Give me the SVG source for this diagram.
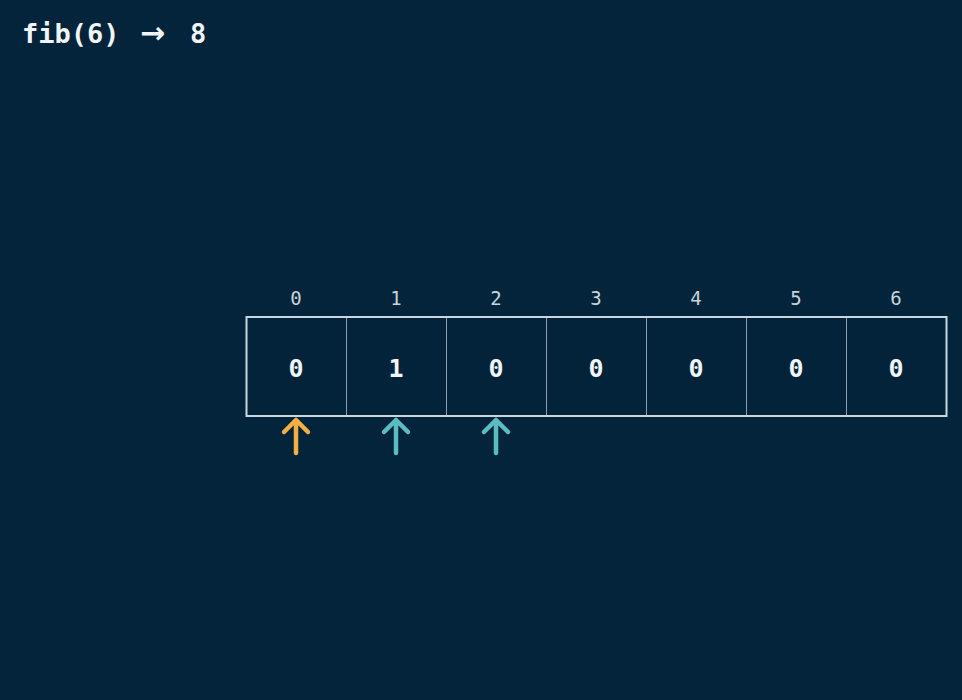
<svg xmlns="http://www.w3.org/2000/svg" width="962" height="700" viewBox="0 0 962 700">
<style>
.title{font-family:"DejaVu Sans Mono","Liberation Mono",monospace;font-weight:bold;font-size:27px;fill:#f2f5f7}
.arr{font-family:"DejaVu Sans","Liberation Sans",sans-serif;font-size:30px}
.idx{font-family:"DejaVu Sans Mono","Liberation Mono",monospace;font-size:19px;fill:#c9d4db;text-anchor:middle;dominant-baseline:central}
.val{font-family:"DejaVu Sans Mono","Liberation Mono",monospace;font-weight:bold;font-size:25px;fill:#f2f5f7;text-anchor:middle;dominant-baseline:central}
.cell{fill:#03233a;stroke:#8b9eab;stroke-width:1}
.ptr{fill:none;stroke-width:4.5;stroke-linecap:round;stroke-linejoin:round}
</style>
<rect width="962" height="700" fill="#03243a"/>
<text class="title" y="43"><tspan x="22">fib(6)</tspan><tspan class="arr" x="140">→</tspan><tspan x="190">8</tspan></text>
<g id="array">
<g id="cell0"><rect class="cell" x="246.5" y="317" width="100" height="99"/><text class="idx" x="296" y="298">0</text><text class="val" x="296" y="368">0</text></g>
<g id="cell1"><rect class="cell" x="346.5" y="317" width="100" height="99"/><text class="idx" x="396" y="298">1</text><text class="val" x="396" y="368">1</text></g>
<g id="cell2"><rect class="cell" x="446.5" y="317" width="100" height="99"/><text class="idx" x="496" y="298">2</text><text class="val" x="496" y="368">0</text></g>
<g id="cell3"><rect class="cell" x="546.5" y="317" width="100" height="99"/><text class="idx" x="596" y="298">3</text><text class="val" x="596" y="368">0</text></g>
<g id="cell4"><rect class="cell" x="646.5" y="317" width="100" height="99"/><text class="idx" x="696" y="298">4</text><text class="val" x="696" y="368">0</text></g>
<g id="cell5"><rect class="cell" x="746.5" y="317" width="100" height="99"/><text class="idx" x="796" y="298">5</text><text class="val" x="796" y="368">0</text></g>
<g id="cell6"><rect class="cell" x="846.5" y="317" width="100" height="99"/><text class="idx" x="896" y="298">6</text><text class="val" x="896" y="368">0</text></g>
<rect x="246.5" y="317" width="700" height="99" fill="none" stroke="#c9d6de" stroke-width="2"/>
</g>
<g id="connectors">
<path id="ptr0" class="ptr" stroke="#f4b043" d="M296 453V420M284 432L296 420L308 432"/>
<path id="ptr1" class="ptr" stroke="#5bbcc2" d="M396 453V420M384 432L396 420L408 432"/>
<path id="ptr2" class="ptr" stroke="#5bbcc2" d="M496 453V420M484 432L496 420L508 432"/>
</g>
</svg>
